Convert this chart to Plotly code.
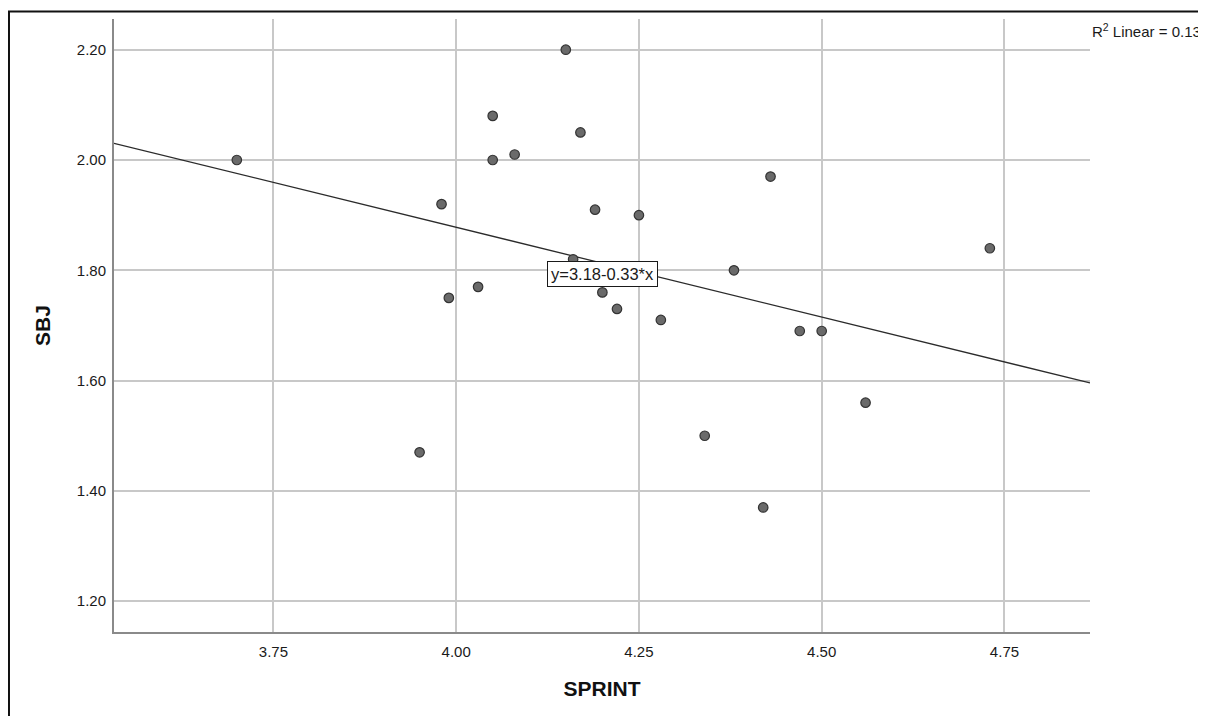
import plotly.graph_objects as go

# Data
sprint = [3.70, 3.95, 3.98, 3.99, 4.03, 4.05, 4.05, 4.08, 4.15, 4.16, 4.17, 4.19,
          4.20, 4.22, 4.25, 4.28, 4.34, 4.38, 4.42, 4.43, 4.47, 4.50, 4.56, 4.73]
sbj = [2.00, 1.47, 1.92, 1.75, 1.77, 2.08, 2.00, 2.01, 2.20, 1.82, 2.05, 1.91,
       1.76, 1.73, 1.90, 1.71, 1.50, 1.80, 1.37, 1.97, 1.69, 1.69, 1.56, 1.84]

fit_intercept = 3.18
fit_slope = -0.3255
x_range = [3.532, 4.867]
y_range = [1.1442, 2.2557]
x_ticks = [3.75, 4.00, 4.25, 4.50, 4.75]
y_ticks = [1.20, 1.40, 1.60, 1.80, 2.00, 2.20]
r2_text = "R<sup>2</sup> Linear = 0.136"
eq_text = "y=3.18-0.33*x"

fit_x = x_range
fit_y = [fit_intercept + fit_slope * v for v in fit_x]

font_family = "Liberation Sans, Arial, sans-serif"

fig = go.Figure()
fig.add_trace(go.Scatter(
    x=fit_x, y=fit_y, mode="lines",
    line=dict(color="#2b2b2b", width=1.3),
    hoverinfo="skip", showlegend=False,
))
fig.add_trace(go.Scatter(
    x=sprint, y=sbj, mode="markers",
    marker=dict(size=9.5, color="#6a6a6a", line=dict(color="#333333", width=1.2)),
    showlegend=False,
))

fig.update_layout(
    width=1198, height=708,
    margin=dict(l=106, r=116, t=11, b=84),
    paper_bgcolor="white", plot_bgcolor="white",
    font=dict(family=font_family, size=15, color="#1a1a1a"),
    xaxis=dict(
        range=x_range, tickvals=x_ticks, tickformat=".2f",
        showgrid=True, gridcolor="#c8c8c8", gridwidth=1.5,
        showline=True, linecolor="#8a8a8a", linewidth=2,
        zeroline=False, ticks="", ticklen=0, ticklabelstandoff=5,
        title=dict(text="<b>SPRINT</b>", font=dict(size=21, color="#111111",
                   family=font_family), standoff=22),
        tickfont=dict(size=15, color="#1a1a1a"),
    ),
    yaxis=dict(
        range=y_range, tickvals=y_ticks, tickformat=".2f",
        showgrid=True, gridcolor="#c8c8c8", gridwidth=1.5,
        showline=True, linecolor="#8a8a8a", linewidth=2,
        zeroline=False, ticks="", ticklen=0, ticklabelstandoff=3,
        title=dict(text="<b>SBJ</b>", font=dict(size=21, color="#111111",
                   family=font_family), standoff=20),
        tickfont=dict(size=15, color="#1a1a1a"),
    ),
    annotations=[
        dict(text=eq_text, x=4.20, y=1.794, xref="x", yref="y",
             showarrow=False, bgcolor="white", bordercolor="#1a1a1a",
             borderwidth=1, borderpad=3,
             font=dict(size=16.5, color="#1a1a1a")),
        dict(text=r2_text, x=0.9995, y=0.981, xref="paper", yref="paper",
             xanchor="left", yanchor="middle", showarrow=False,
             font=dict(size=15, color="#1a1a1a")),
    ],
    shapes=[
        dict(type="path", xref="paper", yref="paper",
             path="M -0.1076,-0.3 L -0.1076,1.0122 L 1.3,1.0122",
             line=dict(color="#111111", width=2)),
    ],
)

fig.write_html("out.html")
